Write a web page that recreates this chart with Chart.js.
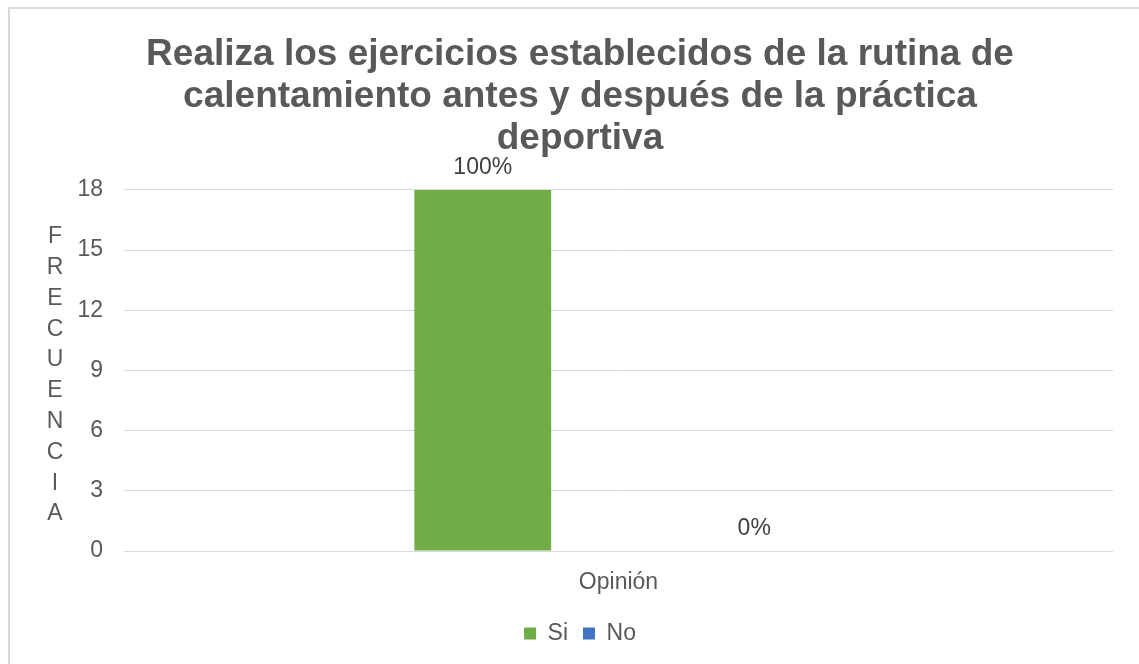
<!DOCTYPE html>
<html>
<head>
<meta charset="utf-8">
<script src="https://cdn.jsdelivr.net/npm/chart.js@4.4.1/dist/chart.umd.min.js"></script>
<style>
  html, body { margin: 0; padding: 0; background: #ffffff; overflow: hidden; }
  #frame { position: absolute; left: 8px; top: 7px; width: 1160px; height: 700px; border: 2px solid #d9d9d9; box-sizing: border-box; }
  #wrap { position: absolute; left: 0; top: 0; width: 1139px; height: 664px; }
</style>
</head>
<body>
<div id="frame"></div>
<div id="wrap"><canvas id="chart"></canvas></div>
<script>
// Survey answers: frequency per option
const categories = ['Opinión'];
const seriesNames = ['Si', 'No'];
const siValues = [18];
const noValues = [0];
const yTicks = [0, 3, 6, 9, 12, 15, 18];
const titleLines = [
  'Realiza los ejercicios establecidos de la rutina de',
  'calentamiento antes y después de la práctica',
  'deportiva'
];
const yAxisTitle = 'FRECUENCIA';

const FONT = '"Liberation Sans", Arial, sans-serif';
const TEXT = '#595959';
const SMALL = 23;

// Percentage labels above each bar, share of the category total
const percentLabels = {
  id: 'percentLabels',
  afterDatasetsDraw(chart) {
    const ctx = chart.ctx;
    const total = chart.data.datasets.reduce((s, d) => s + d.data[0], 0);
    ctx.save();
    ctx.font = SMALL + 'px ' + FONT;
    ctx.fillStyle = '#404040';
    ctx.textAlign = 'center';
    ctx.textBaseline = 'middle';
    chart.data.datasets.forEach((ds, i) => {
      chart.getDatasetMeta(i).data.forEach((bar, j) => {
        const pct = total ? Math.round(ds.data[j] / total * 100) : 0;
        ctx.fillText(pct + '%', bar.x, bar.y - 22);
      });
    });
    ctx.restore();
  }
};

// Stacked-letter vertical axis title
const stackedYTitle = {
  id: 'stackedYTitle',
  afterDraw(chart) {
    const ctx = chart.ctx;
    ctx.save();
    ctx.font = SMALL + 'px ' + FONT;
    ctx.fillStyle = TEXT;
    ctx.textAlign = 'center';
    ctx.textBaseline = 'middle';
    const letters = yAxisTitle.split('');
    const step = 30.8;
    const midY = (chart.chartArea.top + chart.chartArea.bottom) / 2 + 5;
    const startY = midY - step * (letters.length - 1) / 2;
    letters.forEach((ch, i) => ctx.fillText(ch, 55, startY + i * step));
    ctx.restore();
  }
};

new Chart(document.getElementById('chart'), {
  type: 'bar',
  data: {
    labels: categories,
    datasets: [
      { label: seriesNames[0], data: siValues, backgroundColor: '#70AD47' },
      { label: seriesNames[1], data: noValues, backgroundColor: '#4472C4' }
    ]
  },
  options: {
    responsive: true,
    maintainAspectRatio: false,
    animation: false,
    categoryPercentage: 0.549,
    barPercentage: 0.504,
    layout: { padding: { left: 47, right: 26, top: 0, bottom: 9 } },
    plugins: {
      title: {
        display: true,
        text: titleLines,
        color: TEXT,
        font: { family: FONT, size: 37, weight: 'bold', lineHeight: 1.135 },
        padding: { top: 34, bottom: 30 }
      },
      legend: {
        position: 'bottom',
        labels: {
          color: TEXT,
          font: { family: FONT, size: SMALL },
          boxWidth: 12,
          boxHeight: 12,
          padding: 15
        }
      },
      tooltip: { enabled: false }
    },
    scales: {
      x: {
        grid: { display: false, drawTicks: false },
        border: { display: false },
        ticks: { color: TEXT, font: { family: FONT, size: SMALL }, padding: 18 },
        afterFit(scale) { scale.height = 56; }
      },
      y: {
        min: 0,
        max: 18,
        afterBuildTicks(scale) { scale.ticks = yTicks.map(v => ({ value: v })); },
        grid: { color: '#d9d9d9', lineWidth: 1, drawTicks: false },
        border: { display: false },
        ticks: { color: TEXT, font: { family: FONT, size: SMALL }, padding: 21 },
        afterFit(scale) { scale.width = 77; }
      }
    }
  },
  plugins: [percentLabels, stackedYTitle]
});
</script>
</body>
</html>
